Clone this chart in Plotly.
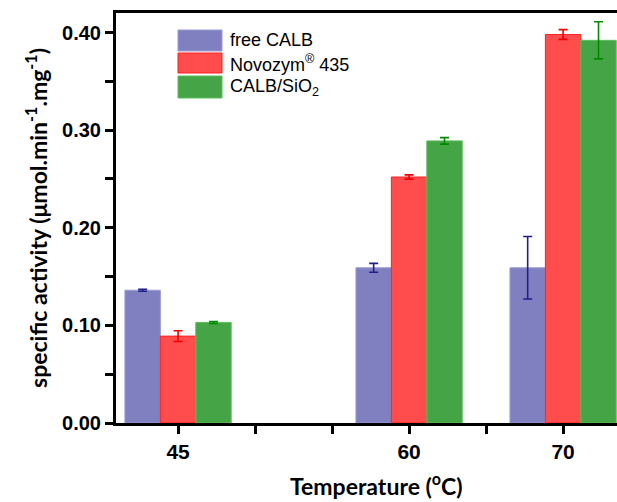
import plotly.graph_objects as go

# Reaction temperature (degC) and specific activity (umol/min/mg) with standard deviations
temperatures = [45, 60, 70]
series_names = ["free CALB", "Novozym<sup>®</sup> 435", "CALB/SiO<sub>2</sub>"]
free_calb = [0.136, 0.159, 0.159]
free_calb_err = [0.001, 0.0045, 0.032]
novozym = [0.089, 0.252, 0.398]
novozym_err = [0.0055, 0.0022, 0.005]
calb_sio2 = [0.103, 0.289, 0.392]
calb_sio2_err = [0.001, 0.0033, 0.019]

x_tick_values = [45, 50, 55, 60, 65, 70]
x_tick_labels = ["45", "", "", "60", "", "70"]

# Styling per series: fill, outline, error bar colour
styles = [
    dict(fill="#8080C0", edge="#9A9AD2", err="#1E1E8C"),
    dict(fill="#FF4D4D", edge="#FF2020", err="#F00000"),
    dict(fill="#45A445", edge="#5CBF5C", err="#008A00"),
]

values = [free_calb, novozym, calb_sio2]
errors = [free_calb_err, novozym_err, calb_sio2_err]

W, H = 617, 502
ML, MR, MT, MB = 116, 0, 13, 79

fig = go.Figure()
for name, v, e, st in zip(series_names, values, errors, styles):
    fig.add_trace(go.Bar(
        x=temperatures, y=v, name=name,
        marker=dict(color=st["fill"], line=dict(color=st["edge"], width=1)),
        error_y=dict(type="data", array=e, visible=True, color=st["err"],
                     thickness=1.6, width=4.5),
        showlegend=False,
    ))

# Legend drawn as swatches + labels inside the plot area
plot_w = W - ML - MR
plot_h = H - MT - MB


def px_x(px):
    return (px - ML) / plot_w


def px_y(py):
    return (H - MB - py) / plot_h


legend_rows = [(30, 51), (53, 73), (76, 98)]
shapes = []
annotations = []
for (top, bot), name, st in zip(legend_rows, series_names, styles):
    shapes.append(dict(type="rect", xref="paper", yref="paper",
                       x0=px_x(178), x1=px_x(222), y0=px_y(bot), y1=px_y(top),
                       fillcolor=st["fill"], line=dict(color=st["edge"], width=1)))
    annotations.append(dict(xref="paper", yref="paper", x=px_x(228),
                            y=px_y((top + bot) / 2), text=name, showarrow=False,
                            xanchor="left", yanchor="middle",
                            font=dict(family="Liberation Sans, Arial", size=18,
                                      color="#000000")))

# x-axis title, centred under the (wider) data region
annotations.append(dict(xref="paper", yref="paper", x=px_x(376), y=px_y(502),
                        text="Temperature (<sup>o</sup>C)", showarrow=False,
                        xanchor="center", yanchor="bottom",
                        font=dict(family="Lato", size=23, color="#000000",
                                  weight="bold")))

fig.update_layout(
    width=W, height=H,
    margin=dict(l=ML, r=MR, t=MT, b=MB, pad=0),
    paper_bgcolor="white", plot_bgcolor="white",
    barmode="group", bargap=0.31, bargroupgap=0,
    shapes=shapes, annotations=annotations,
    font=dict(family="Liberation Sans, Arial", color="#000000"),
)

fig.update_xaxes(
    range=[40.97, 73.5],
    tickmode="array", tickvals=x_tick_values, ticktext=x_tick_labels,
    ticks="outside", ticklen=8, tickwidth=2.5, tickcolor="#000000",
    tickfont=dict(family="Liberation Sans, Arial", size=21, color="#000000",
                  weight="bold"),
    showline=True, linewidth=3, linecolor="#000000", mirror=True,
    showgrid=False, zeroline=False,
)

fig.update_yaxes(
    range=[0, 0.42], dtick=0.1, tick0=0, tickformat=".2f",
    ticks="outside", ticklen=8, tickwidth=2.5, tickcolor="#000000",
    minor=dict(dtick=0.05, ticks="outside", ticklen=8, tickwidth=2.5,
               tickcolor="#000000", showgrid=False),
    tickfont=dict(family="Liberation Sans, Arial", size=20, color="#000000",
                  weight="bold"),
    showline=True, linewidth=3, linecolor="#000000",
    showgrid=False, zeroline=False,
    title=dict(text="specific activity (\u03bcmol.min<sup>-1</sup>.mg<sup>-1</sup>)",
               standoff=9,
               font=dict(family="Lato", size=23, color="#000000", weight="bold")),
)

fig.write_html("out.html")
